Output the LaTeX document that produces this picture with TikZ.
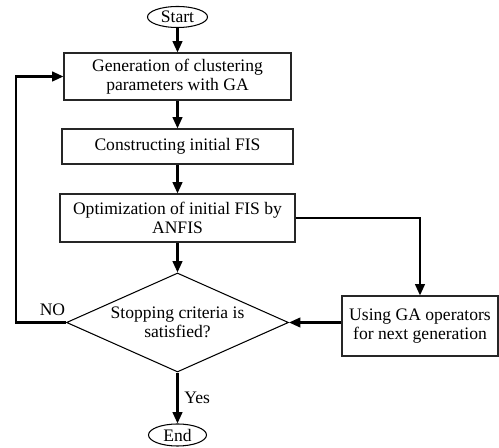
\documentclass[tikz,border=0pt]{standalone}
\usepackage{fontspec}
\setmainfont{Liberation Serif}
\usetikzlibrary{shapes.geometric,arrows.meta}

\begin{document}
\begin{tikzpicture}[>={Triangle[length=6.5pt,width=5.5pt]},
  font=\fontsize{10}{10.5}\selectfont,
  proc/.style={draw=black!85,line width=0.6pt,align=center,inner sep=2pt},
  term/.style={draw,ellipse,line width=0.6pt,inner sep=0pt,minimum width=1.2cm,minimum height=0.42cm},
  flow/.style={->,line width=1.3pt}]
  \useasboundingbox (0,0) rectangle (9.98,-8.96);

  \node[term] (start) at (3.55,-0.34) {Start};
  \node[proc,minimum width=4.54cm,minimum height=0.94cm] (gen) at (3.55,-1.53) {Generation of clustering\\parameters with GA};
  \node[proc,minimum width=4.62cm,minimum height=0.7cm] (fis) at (3.55,-2.93) {Constructing initial FIS};
  \node[proc,minimum width=4.7cm,minimum height=0.96cm] (anfis) at (3.55,-4.36) {Optimization of initial FIS by\\ANFIS};
  \node[draw,diamond,aspect=2.24,line width=0.6pt,align=center,inner sep=0pt,
        minimum width=4.44cm,minimum height=1.98cm] (stop) at (3.55,-6.45) {Stopping criteria is\\satisfied?};
  \node[proc,minimum width=3.12cm,minimum height=1.2cm] (ops) at (8.4,-6.52) {Using GA operators\\for next generation};
  \node[term,minimum width=1.16cm,minimum height=0.44cm] (finish) at (3.55,-8.7) {End};

  % main line
  \draw[flow] (start) -- (gen);
  \draw[flow] (gen) -- (fis);
  \draw[flow] (fis) -- (anfis);
  \draw[flow] (anfis) -- (stop);
  \draw[flow] (stop) -- node[right] {Yes} (finish);

  % next generation loop
  \coordinate (back) at (0.32,-6.45);
  \draw[flow] (stop.west) -- node[above,pos=0.27] {NO} (back) |- (gen.west);
  \draw[flow] (anfis.east) -| (ops.north);
  \draw[flow] (ops.west |- stop.east) -- (stop.east);
\end{tikzpicture}
\end{document}
